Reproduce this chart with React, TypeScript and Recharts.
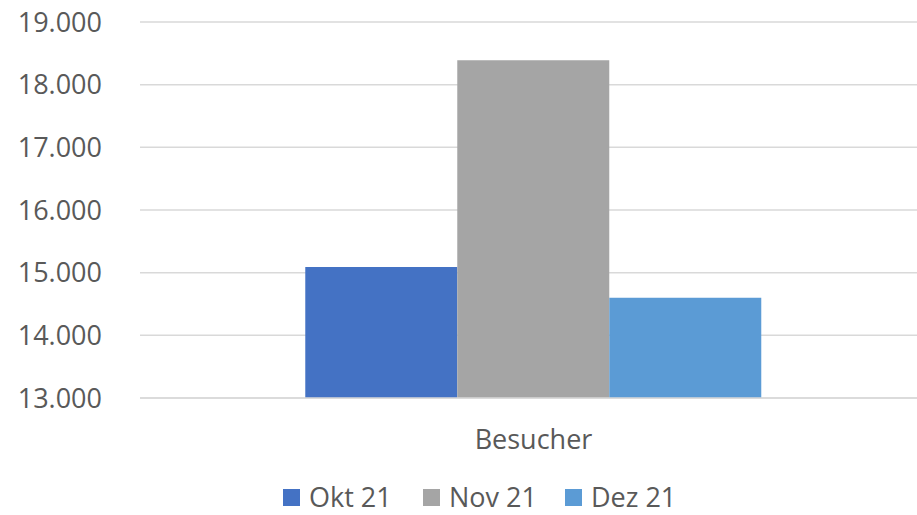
import { BarChart, Bar, XAxis, YAxis, CartesianGrid, Legend } from 'recharts';

const categories = ['Besucher'];
const seriesNames = ['Okt 21', 'Nov 21', 'Dez 21'];
const seriesValues = [15090, 18390, 14600];
const seriesColors = ['#4472C4', '#A5A5A5', '#5B9BD5'];
const yTicks = [13000, 14000, 15000, 16000, 17000, 18000, 19000];

const data = categories.map((name) => {
  const row: Record<string, string | number> = { name };
  seriesNames.forEach((s, i) => {
    row[s] = seriesValues[i];
  });
  return row;
});

const FONT = '"Open Sans", sans-serif';
const TEXT = '#595959';

const formatDe = (v: number) => String(v).replace(/\B(?=(\d{3})+(?!\d))/g, '.');

const itemWidths = [140, 142, 130];

function LegendContent() {
  return (
    <div style={{ display: 'flex', paddingLeft: 283, height: 36, alignItems: 'center', fontFamily: FONT, fontSize: 27, color: TEXT }}>
      {seriesNames.map((s, i) => (
        <div key={s} style={{ display: 'flex', alignItems: 'center', width: itemWidths[i] }}>
          <span style={{ width: 17, height: 17, background: seriesColors[i], marginRight: 9, display: 'inline-block' }} />
          <span style={{ lineHeight: '36px' }}>{s}</span>
        </div>
      ))}
    </div>
  );
}

export default function App() {
  return (
    <div style={{ position: 'fixed', top: 0, left: 0, width: 917, height: 515, overflow: 'hidden', background: '#fff' }}>
      <BarChart
        width={927}
        height={515}
        data={data}
        margin={{ top: 22, right: 0, left: 0, bottom: 0 }}
        barCategoryGap="21%"
        barGap={0}
      >
        <CartesianGrid vertical={false} stroke="#D9D9D9" strokeWidth={1.5} />
        <XAxis
          dataKey="name"
          height={81}
          axisLine={{ stroke: '#D9D9D9', strokeWidth: 1.5 }}
          tickLine={false}
          tickSize={0}
          tickMargin={32}
          tick={{ fill: TEXT, fontSize: 27, fontFamily: FONT }}
        />
        <YAxis
          width={140}
          domain={[13000, 19000]}
          ticks={yTicks}
          axisLine={false}
          tickLine={false}
          tickSize={0}
          tickMargin={38}
          tickFormatter={formatDe}
          tick={{ fill: TEXT, fontSize: 27, fontFamily: FONT }}
        />
        <Legend verticalAlign="bottom" align="left" height={36} content={<LegendContent />} wrapperStyle={{ left: 0, width: 917 }} />
        {seriesNames.map((s, i) => (
          <Bar key={s} dataKey={s} fill={seriesColors[i]} isAnimationActive={false} />
        ))}
      </BarChart>
    </div>
  );
}
